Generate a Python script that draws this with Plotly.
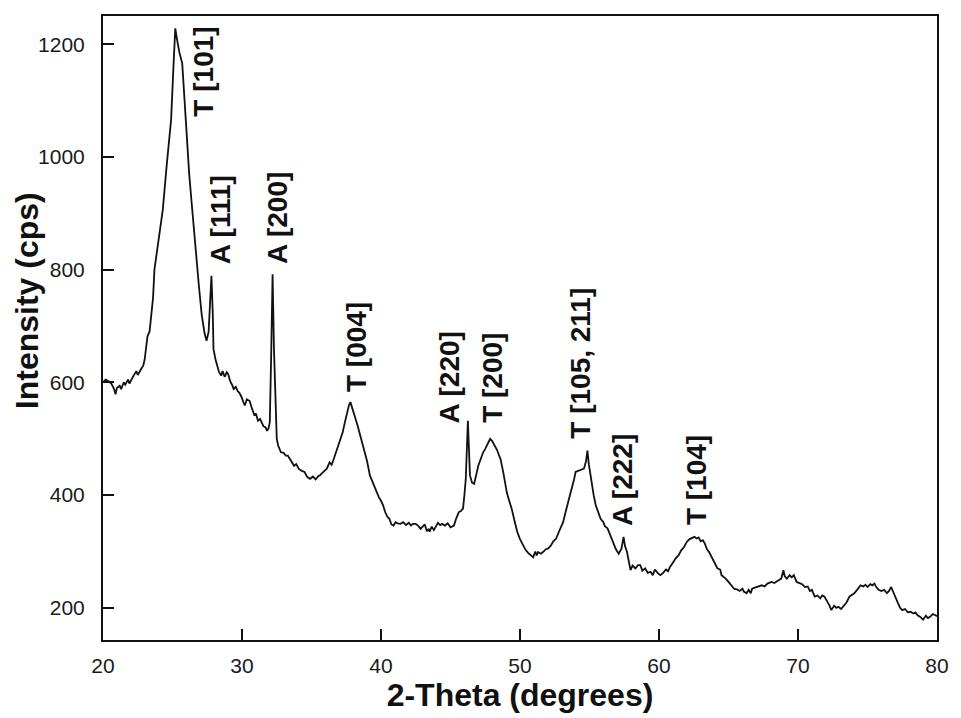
import plotly.graph_objects as go

# 2-Theta (degrees) and intensity (cps)
two_theta = [
    20.0, 20.2, 20.4, 20.6, 20.8, 20.9, 21.0, 21.2, 21.3, 21.5, 21.6, 21.8, 21.9, 22.0, 22.2, 22.4, 22.5, 22.7, 22.9, 23.0,
    23.1, 23.2, 23.35, 23.45, 23.6, 23.7, 24.0, 24.3, 24.6, 24.9, 25.05, 25.2, 25.35, 25.5, 25.7, 25.85, 26.0, 26.2, 26.4, 26.6,
    26.9, 27.1, 27.3, 27.45, 27.6, 27.7, 27.8, 27.9, 27.95, 28.1, 28.2, 28.35, 28.5, 28.6, 28.75, 28.9, 29.0, 29.15, 29.3, 29.4,
    29.55, 29.7, 29.8, 29.95, 30.1, 30.2, 30.35, 30.55, 30.7, 30.8, 30.9, 31.0, 31.15, 31.3, 31.4, 31.55, 31.7, 31.8, 31.9, 32.0,
    32.1, 32.2, 32.3, 32.4, 32.5, 32.6, 32.7, 32.8, 33.0, 33.15, 33.3, 33.5, 33.75, 33.9, 34.1, 34.3, 34.5, 34.7, 34.9, 35.1,
    35.3, 35.5, 35.6, 35.8, 36.0, 36.1, 36.3, 36.45, 36.6, 36.8, 37.0, 37.1, 37.25, 37.4, 37.55, 37.7, 37.8, 37.9, 38.0, 38.1,
    38.3, 38.5, 38.65, 38.85, 39.0, 39.2, 39.4, 39.6, 39.7, 39.85, 40.0, 40.15, 40.3, 40.45, 40.6, 40.75, 40.9, 41.05, 41.2, 41.4,
    41.6, 41.8, 42.0, 42.15, 42.3, 42.5, 42.7, 42.85, 43.0, 43.15, 43.3, 43.45, 43.5, 43.65, 43.8, 43.95, 44.1, 44.25, 44.4, 44.6,
    44.8, 45.0, 45.25, 45.4, 45.5, 45.6, 45.75, 45.9, 46.0, 46.1, 46.25, 46.35, 46.4, 46.55, 46.7, 46.85, 47.0, 47.2, 47.35, 47.5,
    47.7, 47.85, 48.0, 48.1, 48.2, 48.35, 48.5, 48.6, 48.8, 49.05, 49.2, 49.4, 49.6, 49.8, 50.0, 50.2, 50.4, 50.6, 50.8, 50.95,
    51.1, 51.2, 51.3, 51.5, 51.7, 51.85, 52.0, 52.2, 52.4, 52.6, 52.8, 53.0, 53.1, 53.3, 53.55, 53.7, 53.9, 54.0, 54.2, 54.4,
    54.6, 54.75, 54.85, 54.95, 55.1, 55.3, 55.45, 55.6, 55.8, 56.0, 56.1, 56.3, 56.5, 56.6, 56.75, 56.9, 57.1, 57.3, 57.45, 57.55,
    57.7, 57.85, 57.95, 58.1, 58.3, 58.5, 58.65, 58.8, 59.0, 59.2, 59.4, 59.55, 59.7, 59.9, 60.1, 60.3, 60.5, 60.65, 60.8, 61.0,
    61.2, 61.4, 61.6, 61.8, 62.0, 62.2, 62.4, 62.55, 62.7, 62.85, 63.0, 63.15, 63.3, 63.45, 63.6, 63.8, 64.0, 64.2, 64.4, 64.5,
    64.8, 65.0, 65.2, 65.4, 65.6, 65.8, 66.0, 66.1, 66.3, 66.45, 66.6, 66.7, 66.9, 67.1, 67.4, 67.6, 67.8, 68.1, 68.3, 68.6,
    68.8, 68.95, 69.05, 69.2, 69.4, 69.55, 69.7, 69.9, 70.1, 70.3, 70.5, 70.7, 70.85, 71.0, 71.2, 71.4, 71.6, 71.75, 71.9, 72.1,
    72.25, 72.4, 72.6, 72.75, 72.9, 73.1, 73.3, 73.5, 73.7, 73.9, 74.05, 74.25, 74.5, 74.7, 74.85, 75.0, 75.2, 75.35, 75.5, 75.65,
    75.8, 76.0, 76.2, 76.4, 76.55, 76.7, 76.85, 77.0, 77.2, 77.35, 77.5, 77.7, 77.9, 78.1, 78.3, 78.45, 78.6, 78.8, 79.0, 79.2,
    79.35, 79.5, 79.7, 79.9, 80.0,
]
intensity = [
    600, 605, 602, 598, 588, 579, 590, 594, 588, 600, 596, 605, 598, 603, 612, 620, 613, 622, 630, 641,
    660, 682, 690, 710, 750, 800, 855, 906, 990, 1066, 1150, 1228, 1205, 1185, 1166, 1100, 1036, 970, 912, 850,
    771, 720, 688, 674, 690, 740, 789, 720, 659, 640, 629, 618, 612, 620, 610, 618, 615, 602, 595, 588,
    592, 584, 582, 575, 565, 559, 570, 567, 555, 548, 541, 545, 532, 535, 529, 522, 520, 514, 518, 529,
    650, 792, 659, 560, 500, 488, 480, 476, 475, 470, 470, 462, 452, 455, 446, 443, 441, 432, 429, 433,
    428, 434, 435, 440, 446, 447, 458, 454, 464, 478, 492, 500, 512, 529, 545, 560, 565, 558, 548, 541,
    525, 506, 490, 470, 460, 435, 423, 410, 405, 396, 390, 382, 370, 362, 358, 348, 346, 352, 350, 349,
    352, 347, 351, 346, 349, 349, 345, 340, 344, 348, 336, 340, 335, 344, 338, 346, 351, 347, 349, 346,
    350, 343, 346, 358, 365, 370, 372, 376, 400, 429, 532, 470, 435, 422, 420, 436, 452, 466, 476, 482,
    492, 500, 496, 492, 488, 480, 470, 464, 440, 405, 392, 376, 355, 335, 322, 311, 303, 297, 293, 290,
    300, 293, 299, 296, 300, 304, 305, 310, 318, 323, 335, 346, 352, 372, 394, 410, 429, 441, 443, 444,
    447, 460, 479, 455, 429, 400, 382, 370, 358, 352, 345, 341, 328, 320, 311, 304, 296, 305, 326, 310,
    299, 280, 267, 275, 270, 276, 276, 266, 270, 262, 264, 258, 268, 262, 258, 262, 268, 265, 273, 280,
    288, 293, 302, 308, 317, 322, 324, 326, 323, 325, 318, 320, 314, 304, 299, 288, 280, 270, 268, 258,
    252, 246, 240, 234, 233, 230, 234, 229, 226, 232, 226, 234, 236, 238, 240, 238, 243, 246, 244, 249,
    252, 267, 256, 252, 258, 254, 258, 246, 244, 242, 237, 238, 230, 232, 220, 222, 217, 222, 220, 212,
    205, 196, 204, 200, 202, 198, 205, 210, 220, 224, 226, 232, 240, 238, 241, 237, 242, 240, 243, 236,
    232, 230, 232, 226, 230, 237, 228, 217, 208, 200, 196, 198, 192, 193, 190, 192, 187, 184, 179, 186,
    182, 184, 189, 187, 185,
]

# Peak labels: text, anchor 2-theta, anchor intensity (bottom of rotated text)
peak_labels = ["T [101]", "A [111]", "A [200]", "T [004]", "A [220]", "T [200]", "T [105, 211]", "A [222]", "T [104]"]
peak_x = [27.23, 28.46, 32.57, 38.19, 44.94, 48.0, 54.33, 57.39, 62.69]
peak_y = [1067, 806, 806, 579, 523, 525, 496, 341, 344]

x_ticks = [20, 30, 40, 50, 60, 70, 80]
y_ticks = [200, 400, 600, 800, 1000, 1200]

FONT = "Liberation Sans, Arial, sans-serif"

fig = go.Figure()
fig.add_trace(go.Scatter(
    x=two_theta, y=intensity, mode="lines",
    line=dict(color="#111111", width=1.8),
    showlegend=False, hoverinfo="skip",
))

for t, px, py in zip(peak_labels, peak_x, peak_y):
    fig.add_annotation(
        x=px, y=py, text="<b>%s</b>" % t, textangle=-90,
        showarrow=False, xanchor="center", yanchor="bottom",
        font=dict(family=FONT, size=28, color="#111111"),
    )

# y-axis title placed as a rotated annotation left of the tick labels
fig.add_annotation(
    xref="paper", yref="paper", x=0, y=0.543, xshift=-76,
    text="<b>Intensity (cps)</b>", textangle=-90, showarrow=False,
    xanchor="center", yanchor="middle",
    font=dict(family=FONT, size=32, color="#111111"),
)

axis_common = dict(
    showgrid=False, zeroline=False, showline=True, linecolor="#111111", linewidth=2,
    mirror=True, ticks="inside", ticklen=11, tickwidth=1.5, tickcolor="#111111",
    tickfont=dict(family=FONT, size=21, color="#1a1a1a"),
)

fig.update_xaxes(
    range=[20, 80], tickvals=x_ticks, ticktext=[str(v) for v in x_ticks],
    title=dict(text="<b>2-Theta (degrees)</b>", standoff=6,
               font=dict(family=FONT, size=32, color="#111111")),
    ticklabelstandoff=6,
    **axis_common,
)
fig.update_yaxes(
    range=[143, 1250], tickvals=y_ticks, ticktext=[str(v) for v in y_ticks],
    ticklabelstandoff=12,
    **axis_common,
)

fig.update_layout(
    width=961, height=718,
    margin=dict(l=103, r=14, t=16, b=76),
    paper_bgcolor="white", plot_bgcolor="white",
)

fig.write_html("out.html")
